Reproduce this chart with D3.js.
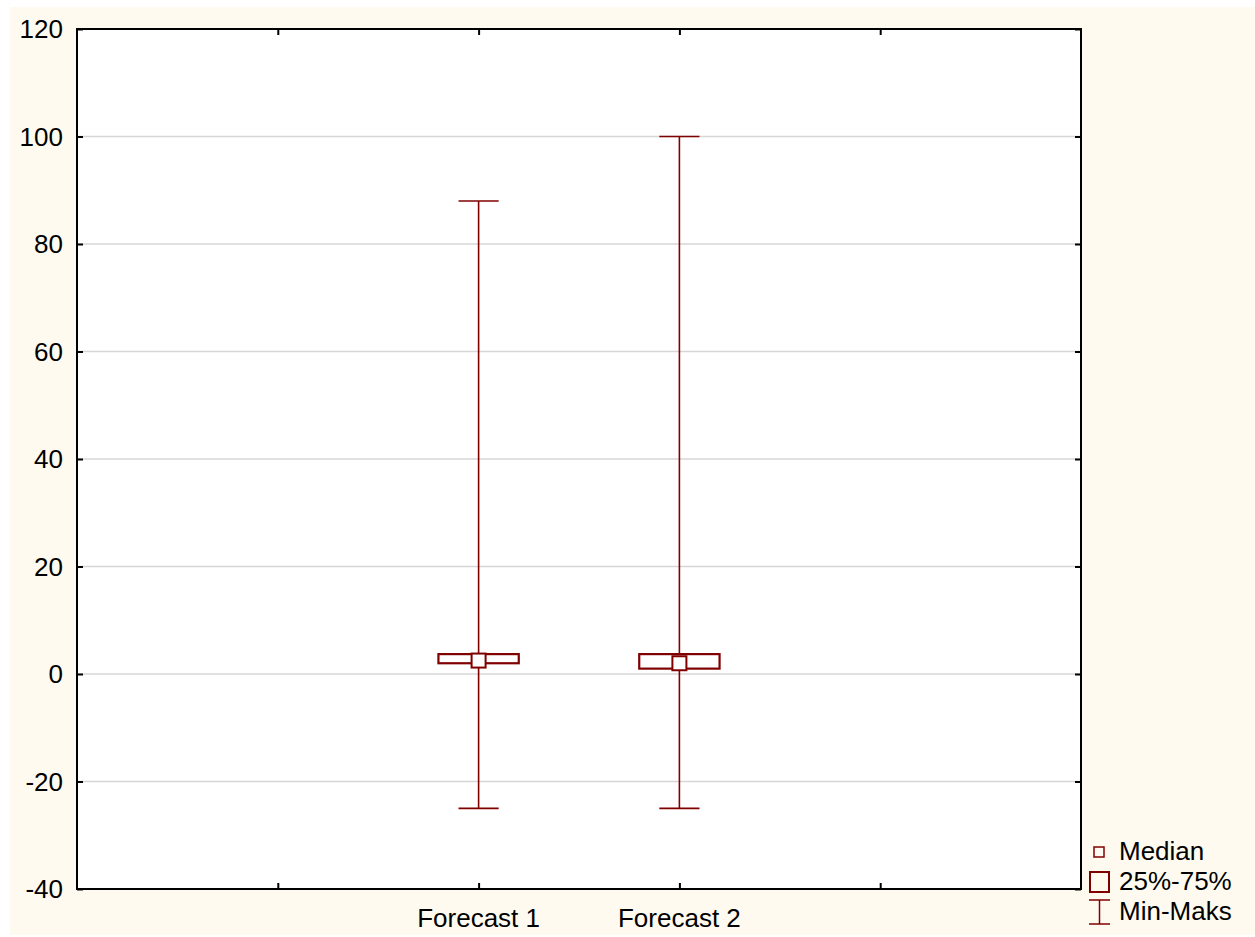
<!DOCTYPE html>
<html>
<head>
<meta charset="utf-8">
<script src="https://cdn.jsdelivr.net/npm/d3@7"></script>
<style>
  body { margin: 0; background: #fff; }
  text { font-family: "Liberation Sans", Arial, sans-serif; fill: #000; }
</style>
</head>
<body>
<div id="chart"></div>
<script>
// data
const categories = ["Forecast 1", "Forecast 2"];
const catPos = [2, 3];
const minVals = [-25, -25];
const q1Vals = [2, 1];
const medVals = [2.5, 2];
const q3Vals = [3.7, 3.7];
const maxVals = [88, 100];
const yTicks = [-40, -20, 0, 20, 40, 60, 80, 100, 120];
const xTicks = [1, 2, 3, 4];
const legendLabels = ["Median", "25%-75%", "Min-Maks"];

const W = 1255, H = 937;
const red = "#800000";
const fontSize = 26;
const margin = { top: 29, left: 77, right: 1255 - 1081, bottom: 937 - 889 };

const svg = d3.select("#chart").append("svg")
    .attr("width", W)
    .attr("height", H);

// cream background
svg.append("rect")
    .attr("x", 10).attr("y", 7)
    .attr("width", W - 10).attr("height", 928)
    .attr("fill", "#fefaef");

const xScale = d3.scaleLinear().domain([0, 5]).range([margin.left, W - margin.right]);
const yScale = d3.scaleLinear().domain([-40, 120]).range([H - margin.bottom, margin.top]);

// plot area
svg.append("rect")
    .attr("x", xScale(0)).attr("y", yScale(120))
    .attr("width", xScale(5) - xScale(0))
    .attr("height", yScale(-40) - yScale(120))
    .attr("fill", "#fff");

// gridlines
svg.append("g")
    .selectAll("line")
    .data(yTicks.filter(d => d > -40 && d < 120))
    .join("line")
    .attr("x1", xScale(0)).attr("x2", xScale(5))
    .attr("y1", d => yScale(d)).attr("y2", d => yScale(d))
    .attr("stroke", "#d6d6d6")
    .attr("stroke-width", 1.5);

// axes with inward ticks
const tickLen = 6;
const axLeft = svg.append("g")
    .attr("transform", `translate(${xScale(0)},0)`)
    .call(d3.axisRight(yScale).tickValues(yTicks).tickSize(tickLen).tickFormat(""));
const axRight = svg.append("g")
    .attr("transform", `translate(${xScale(5)},0)`)
    .call(d3.axisLeft(yScale).tickValues(yTicks).tickSize(tickLen).tickFormat(""));
const axTop = svg.append("g")
    .attr("transform", `translate(0,${yScale(120)})`)
    .call(d3.axisBottom(xScale).tickValues(xTicks).tickSize(tickLen).tickFormat(""));
const axBottom = svg.append("g")
    .attr("transform", `translate(0,${yScale(-40)})`)
    .call(d3.axisTop(xScale).tickValues(xTicks).tickSize(tickLen).tickFormat(""));

[axLeft, axRight, axTop, axBottom].forEach(a => {
    a.selectAll(".domain").remove();
    a.selectAll(".tick line").attr("stroke", "#000").attr("stroke-width", 2);
});

// frame
svg.append("rect")
    .attr("x", xScale(0)).attr("y", yScale(120))
    .attr("width", xScale(5) - xScale(0))
    .attr("height", yScale(-40) - yScale(120))
    .attr("fill", "none")
    .attr("stroke", "#000")
    .attr("stroke-width", 2);

// y tick labels
svg.append("g")
    .selectAll("text")
    .data(yTicks)
    .join("text")
    .attr("x", 63)
    .attr("y", d => yScale(d))
    .attr("dy", "0.36em")
    .attr("text-anchor", "end")
    .attr("font-size", fontSize)
    .text(d => d);

// x category labels
svg.append("g")
    .selectAll("text")
    .data(categories)
    .join("text")
    .attr("x", (d, i) => xScale(catPos[i]))
    .attr("y", 927)
    .attr("text-anchor", "middle")
    .attr("font-size", fontSize)
    .text(d => d);

// box plots
const unit = xScale(1) - xScale(0);
const boxW = 0.4 * unit, capW = 0.2 * unit, medS = 14;
const plots = svg.append("g");

categories.forEach((c, i) => {
    const cx = xScale(catPos[i]);
    const g = plots.append("g");
    g.append("line")
        .attr("x1", cx).attr("x2", cx)
        .attr("y1", yScale(maxVals[i])).attr("y2", yScale(minVals[i]))
        .attr("stroke", red).attr("stroke-width", 1.6);
    [minVals[i], maxVals[i]].forEach(v => {
        g.append("line")
            .attr("x1", cx - capW / 2).attr("x2", cx + capW / 2)
            .attr("y1", yScale(v)).attr("y2", yScale(v))
            .attr("stroke", red).attr("stroke-width", 1.6);
    });
    g.append("rect")
        .attr("x", cx - boxW / 2)
        .attr("y", yScale(q3Vals[i]))
        .attr("width", boxW)
        .attr("height", yScale(q1Vals[i]) - yScale(q3Vals[i]))
        .attr("fill", "#fff")
        .attr("stroke", red).attr("stroke-width", 2.2);
    g.append("rect")
        .attr("x", cx - medS / 2)
        .attr("y", yScale(medVals[i]) - medS / 2)
        .attr("width", medS).attr("height", medS)
        .attr("fill", "#fff")
        .attr("stroke", red).attr("stroke-width", 2);
});

// legend
const legend = svg.append("g");
legend.append("rect")
    .attr("x", 1094).attr("y", 847).attr("width", 10).attr("height", 10)
    .attr("fill", "none").attr("stroke", red).attr("stroke-width", 1.5);
legend.append("rect")
    .attr("x", 1090).attr("y", 872).attr("width", 19).attr("height", 20)
    .attr("fill", "none").attr("stroke", red).attr("stroke-width", 2);
legend.append("line")
    .attr("x1", 1099.5).attr("x2", 1099.5).attr("y1", 900).attr("y2", 924)
    .attr("stroke", red).attr("stroke-width", 1.5);
[900, 924].forEach(y => legend.append("line")
    .attr("x1", 1089).attr("x2", 1110).attr("y1", y).attr("y2", y)
    .attr("stroke", red).attr("stroke-width", 1.5));
legend.selectAll("text")
    .data(legendLabels)
    .join("text")
    .attr("x", 1119)
    .attr("y", (d, i) => 860 + i * 30)
    .attr("font-size", fontSize)
    .text(d => d);
</script>
</body>
</html>
